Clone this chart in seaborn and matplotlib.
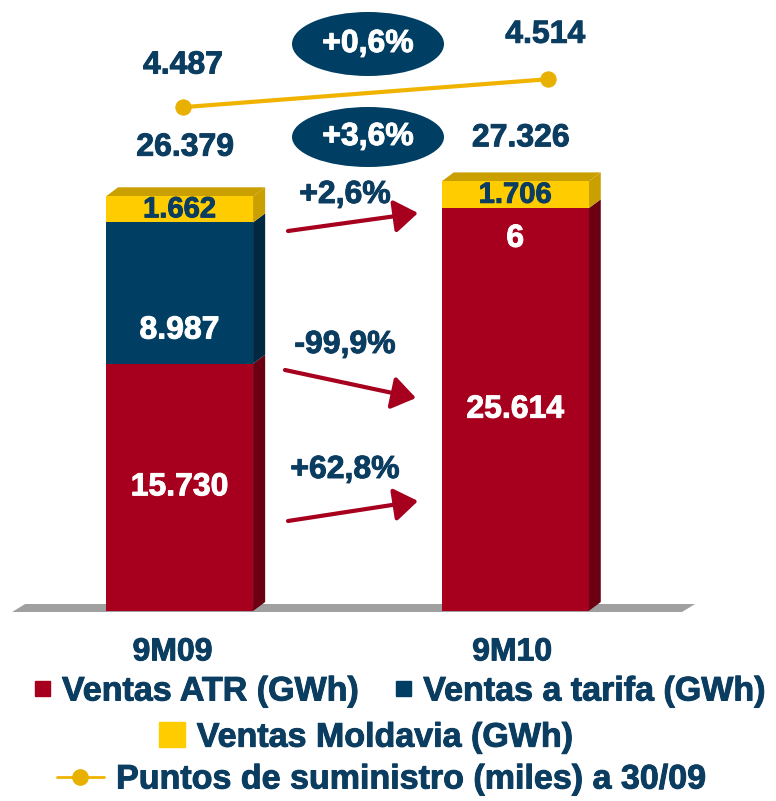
import matplotlib
matplotlib.use('Agg')
import matplotlib.pyplot as plt
import matplotlib.transforms as mtransforms
import matplotlib.patheffects as pe
import seaborn as sns
from matplotlib.patches import Polygon, Ellipse, Patch
from matplotlib.lines import Line2D
from matplotlib.text import Text

# datos
periodos = ['9M09', '9M10']
ventas_atr = [15730, 25614]
ventas_tarifa = [8987, 6]
ventas_moldavia = [1662, 1706]
totales = [26379, 27326]
puntos = [4487, 4514]
var_puntos = '+0,6%'
var_total = '+3,6%'
var_series = ['+2,6%', '-99,9%', '+62,8%']   # moldavia, tarifa, atr

ROJO, ROJO_OSC = '#A6001E', '#6A0012'
AZUL, AZUL_OSC = '#003F63', '#002840'
AMAR, AMAR_OSC = '#FFCC00', '#C9A000'
ORO = '#F0B400'
TXT = '#0B3D61'

def fmt(v):
    return f'{v:,}'.replace(',', '.')

sns.set_theme(style='white')
plt.rcParams['font.family'] = ['Liberation Sans', 'DejaVu Sans']
plt.rcParams['font.weight'] = 'bold'

W, H = 776, 801
fig = plt.figure(figsize=(W / 100, H / 100), dpi=100)

def rect(l, t, r, b):
    return [l / W, 1 - b / H, (r - l) / W, (b - t) / H]

ax = fig.add_axes(rect(11.75, 45, 683, 611))
ax.patch.set_alpha(0)

base_tarifa = [a + t for a, t in zip(ventas_atr, ventas_tarifa)]
ancho = 0.438
# barras apiladas: se dibuja de arriba a abajo
sns.barplot(x=periodos, y=totales, color=AMAR, width=ancho, saturation=1, linewidth=0, ax=ax, zorder=3)
sns.barplot(x=periodos, y=base_tarifa, color=AZUL, width=ancho, saturation=1, linewidth=0, ax=ax, zorder=3)
sns.barplot(x=periodos, y=ventas_atr, color=ROJO, width=ancho, saturation=1, linewidth=0, ax=ax, zorder=3)
ax.set_xlim(-0.5, 1.5)
ax.set_ylim(0, 36000)

# efecto 3D
dx, dy = 0.036, 570
for i in range(len(periodos)):
    xr = i + ancho / 2
    xl = i - ancho / 2
    segs = [(0, ventas_atr[i], ROJO_OSC), (ventas_atr[i], base_tarifa[i], AZUL_OSC),
            (base_tarifa[i], totales[i], AMAR_OSC)]
    for b, t, c in segs:
        ax.add_patch(Polygon([(xr, b), (xr + dx, b + dy), (xr + dx, t + dy), (xr, t)],
                             closed=True, color=c, lw=0, zorder=2))
    t = totales[i]
    ax.add_patch(Polygon([(xl, t), (xl + dx, t + dy), (xr + dx, t + dy), (xr, t)],
                         closed=True, color=AMAR_OSC, lw=0, zorder=2))

# suelo
ax.add_patch(Polygon([(-0.499, -64), (-0.46, 445), (1.536, 445), (1.497, -64)],
                     closed=True, color='#A0A0A0', lw=0, zorder=1, clip_on=False))

# etiquetas de segmentos
off_tarifa = [-27, -22]
for i in range(len(periodos)):
    ax.annotate(fmt(ventas_atr[i]), (i, ventas_atr[i] / 2), ha='center', va='center',
                color='white', fontsize=23, zorder=5)
    ax.annotate(fmt(ventas_tarifa[i]), (i, ventas_atr[i] + ventas_tarifa[i] / 2),
                xytext=(0, off_tarifa[i]), textcoords='offset points',
                ha='center', va='center', color='white', fontsize=23, zorder=5)
    ax.annotate(fmt(ventas_moldavia[i]), (i, base_tarifa[i] + ventas_moldavia[i] / 2),
                ha='center', va='center', color=TXT, fontsize=21, zorder=5)

off_total = [35, 31]
for i in range(len(periodos)):
    ax.annotate(fmt(totales[i]), (i, totales[i]), xytext=(4, off_total[i]),
                textcoords='offset points', ha='center', va='center', color=TXT, fontsize=23)

ax.set_xticks(range(len(periodos)))
ax.set_xticklabels(periodos, fontsize=23, color=TXT, fontweight='bold')
ax.tick_params(axis='x', length=0, pad=19)
for lab, sx in zip(ax.get_xticklabels(), [-7, -3]):
    lab.set_transform(lab.get_transform() + mtransforms.ScaledTranslation(sx / 100, 0, fig.dpi_scale_trans))
ax.set_yticks([])
ax.set_xlabel('')
ax.set_ylabel('')
sns.despine(ax=ax, left=True, bottom=True)

# puntos de suministro
axl = fig.add_axes(rect(0.5, 45, 730.5, 611))
axl.patch.set_alpha(0)
sns.lineplot(x=[0, 1], y=puntos, color=ORO, lw=3, marker='o', markersize=11,
             markerfacecolor='#E8B000', markeredgecolor='#E8B000', ax=axl)
axl.set_xlim(-0.5, 1.5)
axl.set_ylim(4001, 4547)
axl.axis('off')
off_p = [30, 32]
for i in range(len(periodos)):
    axl.annotate(fmt(puntos[i]), (i, puntos[i]), xytext=(-2 * i, off_p[i]),
                 textcoords='offset points', ha='center', va='center', color=TXT, fontsize=23)

# capa de anotaciones (pixeles)
ov = fig.add_axes([0, 0, 1, 1])
ov.set_xlim(0, W)
ov.set_ylim(H, 0)
ov.axis('off')
ov.patch.set_alpha(0)

for (cx, cy, h), txt in zip([(368, 44, 64), (368, 137, 60)], [var_puntos, var_total]):
    ov.add_patch(Ellipse((cx, cy), 152, h, color=AZUL, lw=0))
    ov.text(cx, cy, txt, ha='center', va='center', color='white', fontsize=23)

flechas = [((288, 231), (418, 213), (345, 195)),
           ((285, 370), (416, 398), (345, 345)),
           ((288, 521), (418, 501), (345, 470))]
for (p0, p1, pt), txt in zip(flechas, var_series):
    ov.annotate('', xy=p1, xytext=p0,
                arrowprops=dict(arrowstyle='-|>,head_length=0.72,head_width=0.5',
                                lw=3, color=ROJO, mutation_scale=20, shrinkA=0, shrinkB=0))
    ov.text(pt[0], pt[1], txt, ha='center', va='center', color=TXT, fontsize=23)

# leyenda
leg_kw = dict(frameon=False, fontsize=24.5, labelcolor=TXT, loc='center', borderpad=0,
              borderaxespad=0, handletextpad=0.35)
l1 = fig.legend([Patch(color=ROJO), Patch(color=AZUL)],
                ['Ventas ATR (GWh)', 'Ventas a tarifa (GWh)'], ncol=2,
                bbox_to_anchor=(400 / W, 1 - 692 / H), handlelength=0.45, handleheight=0.3,
                columnspacing=1.1, **leg_kw)
l2 = fig.legend([Patch(color=AMAR)], ['Ventas Moldavia (GWh)'],
                bbox_to_anchor=(366 / W, 1 - 738 / H), handlelength=0.75, handleheight=0.75, **leg_kw)
l3 = fig.legend([Line2D([], [], color=ORO, lw=2, marker='o', markersize=11,
                        markerfacecolor='#E8B000', markeredgecolor='#E8B000')],
                ['Puntos de suministro (miles) a 30/09'],
                bbox_to_anchor=(381 / W, 1 - 780 / H), handlelength=1.4, **leg_kw)

# trazo un poco mas grueso, como en la original
for t in fig.findobj(Text):
    if t.get_text():
        t.set_path_effects([pe.withStroke(linewidth=0.7, foreground=t.get_color())])

fig.savefig('out.png', dpi=100)
